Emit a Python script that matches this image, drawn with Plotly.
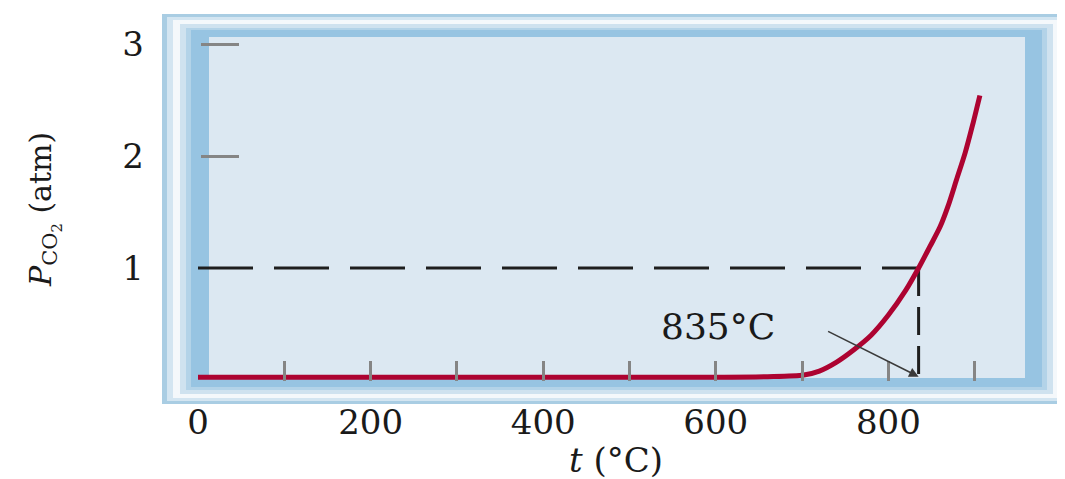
import plotly.graph_objects as go

# ---- data ----
t_curve = [0, 100, 200, 300, 400, 500, 600, 660, 702, 720, 740, 760, 780, 800, 820, 835, 848, 860, 869, 879, 889, 898, 906]
p_curve = [0.025, 0.025, 0.025, 0.025, 0.025, 0.025, 0.025, 0.03, 0.045, 0.08, 0.16, 0.27, 0.40, 0.58, 0.80, 1.0, 1.19, 1.37, 1.55, 1.79, 2.03, 2.29, 2.54]

t_mark = 835          # decomposition temperature
p_mark = 1.0          # 1 atm
x_ticks = [0, 200, 400, 600, 800]
x_minor = [100, 200, 300, 400, 500, 600, 700, 800, 900]
y_ticks = [1, 2, 3]
y_minor = [2, 3]
label_text = "835°C"

# ---- geometry (reference pixels; the page body adds an 8 px margin) ----
OFF = 8
W, H = 1065 - OFF, 479 - OFF
L, R, T, B = 162, 1065, 14, 404          # plot area in reference pixels
X0PX, XSCALE = 198, 0.863                 # px of t=0, px per °C
Y0PX, YSCALE = 380, 112                   # px of P=0, px per atm
xrange = [(L - X0PX) / XSCALE, (R - X0PX) / XSCALE]
yrange = [-(B - Y0PX) / YSCALE, (Y0PX - T) / YSCALE]

def px(xp):
    return (xp - L) / (R - L)

def py(yp):
    return (B - yp) / (B - T)

FONT = "DejaVu Serif"
INK = "#1a1a1a"

bands = [
    (162, 14, 1065, 404, "#a9cde3"),
    (167, 17, 1062, 401, "#d3e5f1"),
    (173, 20, 1058, 398, "#f4f8fb"),
    (180, 24, 1053, 394, "#cfe2ef"),
    (186, 28, 1047, 390, "#b3d3e8"),
    (191, 30, 1042, 387, "#97c4e2"),
    (209, 37, 1025, 378, "#dce8f2"),
]
shapes = [
    dict(type="rect", xref="paper", yref="paper", layer="below",
         x0=px(a), x1=px(c), y0=py(d), y1=py(b), fillcolor=col, line=dict(width=0))
    for a, b, c, d, col in bands
]

fig = go.Figure()

# dashed guide lines
fig.add_trace(go.Scatter(x=[0, t_mark], y=[p_mark, p_mark], mode="lines",
                         line=dict(color="#1e1e1e", width=3, dash="55px,21px"),
                         hoverinfo="skip", showlegend=False))
fig.add_trace(go.Scatter(x=[t_mark, t_mark], y=[p_mark, 0], mode="lines",
                         line=dict(color="#1e1e1e", width=3, dash="28px,11px"),
                         hoverinfo="skip", showlegend=False))
# curve
fig.add_trace(go.Scatter(x=t_curve, y=p_curve, mode="lines",
                         line=dict(color="#ad0331", width=5, shape="spline", smoothing=0.8),
                         showlegend=False))
# dummy trace for the inner tick axes
fig.add_trace(go.Scatter(x=[None], y=[None], xaxis="x2", yaxis="y2",
                         showlegend=False, hoverinfo="skip"))

fig.add_annotation(x=t_mark, y=0.03, ax=-92, ay=-46, text="", showarrow=True,
                   arrowhead=2, arrowsize=1.2, arrowwidth=1.6, arrowcolor="#3a3a3a")
fig.add_annotation(x=603, y=0.48, text=label_text, showarrow=False,
                   xanchor="center", yanchor="middle",
                   font=dict(family=FONT, size=36, color=INK))
fig.add_annotation(x=px(44), y=py(210), xref="paper", yref="paper", textangle=-90,
                   xanchor="center", yanchor="middle",
                   text="<i>P</i><sub>CO<sub>2</sub></sub> (atm)", showarrow=False,
                   font=dict(family=FONT, size=30, color=INK))
fig.add_annotation(x=px(616), y=py(460), xref="paper", yref="paper",
                   xanchor="center", yanchor="middle",
                   text="<i>t</i> (°C)", showarrow=False,
                   font=dict(family=FONT, size=34, color=INK))

fig.update_layout(
    width=W, height=H,
    margin=dict(l=L - OFF, r=W - (R - OFF), t=T - OFF, b=H - (B - OFF), pad=0),
    paper_bgcolor="white", plot_bgcolor="white",
    shapes=shapes,
    xaxis=dict(range=xrange, tickvals=x_ticks, ticks="", showgrid=False, zeroline=False,
               showline=False, tickfont=dict(family=FONT, size=34, color=INK),
               ticklabelstandoff=-5),
    yaxis=dict(range=yrange, tickvals=y_ticks, ticks="", showgrid=False, zeroline=False,
               showline=False, tickfont=dict(family=FONT, size=34, color=INK),
               ticklabelstandoff=17),
    xaxis2=dict(range=xrange, overlaying="x", anchor="free", position=py(381), side="bottom",
                tickvals=x_minor, ticks="inside", ticklen=20, tickwidth=3, tickcolor="#858585",
                showticklabels=False, showgrid=False, zeroline=False, showline=False),
    yaxis2=dict(range=yrange, overlaying="y", anchor="free", position=px(200), side="left",
                tickvals=y_minor, ticks="inside", ticklen=38, tickwidth=3, tickcolor="#858585",
                showticklabels=False, showgrid=False, zeroline=False, showline=False),
)

fig.write_html("out.html")
